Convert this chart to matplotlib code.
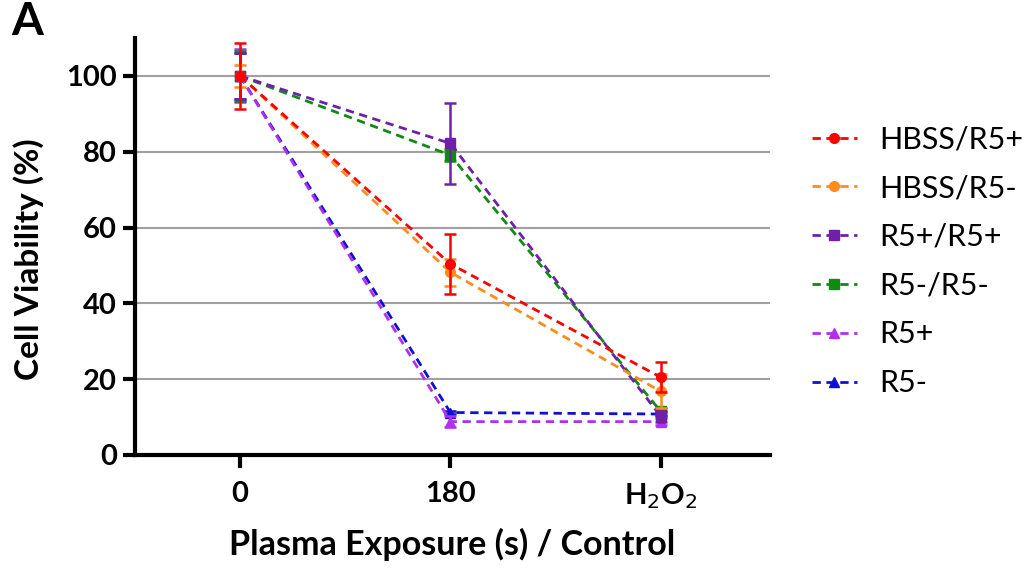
import matplotlib
matplotlib.use("Agg")
import matplotlib.pyplot as plt
import numpy as np

plt.rcParams['font.family'] = ['Lato', 'DejaVu Sans']

categories = ['0', '180', 'H$_2$O$_2$']
series_names = ['HBSS/R5+', 'HBSS/R5-', 'R5+/R5+', 'R5-/R5-', 'R5+', 'R5-']
hbss_r5p = [100, 50.4, 20.5]
hbss_r5p_err = [8.7, 8.0, 4.0]
hbss_r5m = [100, 48.2, 16.8]
hbss_r5m_err = [3.0, 3.6, 4.5]
r5p_r5p = [100, 82.2, 10.2]
r5p_r5p_err = [6.0, 10.7, 1.5]
r5m_r5m = [100, 79.1, 11.5]
r5m_r5m_err = [6.6, 1.5, 1.0]
r5p = [100, 8.8, 8.8]
r5p_err = [7.0, 1.5, 1.0]
r5m = [100, 11.2, 10.8]
r5m_err = [6.0, 0.5, 0.5]

values = [hbss_r5p, hbss_r5m, r5p_r5p, r5m_r5m, r5p, r5m]
errors = [hbss_r5p_err, hbss_r5m_err, r5p_r5p_err, r5m_r5m_err, r5p_err, r5m_err]
colors = ['#FF0000', '#FF8C1A', '#7020A8', '#118A11', '#B030F0', '#1010D0']
markers = ['o', 'o', 's', 's', '^', '^']
zorders = [10, 9, 8, 7, 6, 5]

fig = plt.figure(figsize=(10.35, 5.68), dpi=100)
ax = fig.add_axes([0.1304, 0.199, 0.744 - 0.1304, 0.933 - 0.199])

x = np.arange(len(categories))
handles = []
for vals, errs, c, m, z, name in zip(values, errors, colors, markers, zorders, series_names):
    ax.errorbar(x, vals, yerr=errs, fmt='none', ecolor=c, elinewidth=1.8,
                capsize=4, capthick=1.8, zorder=z)
    h, = ax.plot(x, vals, linestyle=(0, (3, 2)), color=c, linewidth=2,
                 marker=m, markersize=7, zorder=z, label=name)
    handles.append(h)

ax.set_xlim(-0.5, 2.52)
ax.set_ylim(0, 110)
ax.set_yticks([0, 20, 40, 60, 80, 100])
ax.set_xticks(x)
ax.set_xticklabels(categories)
for yv in [20, 40, 60, 80, 100]:
    ax.axhline(yv, color='#A0A0A0', linewidth=1.5, zorder=1)

for s in ['top', 'right']:
    ax.spines[s].set_visible(False)
for s in ['left', 'bottom']:
    ax.spines[s].set_linewidth(3)
ax.tick_params(axis='both', direction='out', width=3, length=9, labelsize=21)
ax.tick_params(axis='y', pad=4)
ax.tick_params(axis='x', pad=10)
for lab in ax.get_xticklabels() + ax.get_yticklabels():
    lab.set_fontweight('bold')

ax.set_xlabel('Plasma Exposure (s) / Control', fontsize=24.5, fontweight='bold', labelpad=12)
ax.set_ylabel('Cell Viability (%)', fontsize=24, fontweight='bold')
ax.yaxis.set_label_coords(-0.143, 0.47)

fig.text(0.011, 0.925, 'A', fontsize=33, fontweight='bold', ha='left', va='bottom')

fig.legend(handles=handles, labels=series_names, loc='center left',
           bbox_to_anchor=(0.770, 0.54), frameon=False, fontsize=22,
           handlelength=1.45, handletextpad=0.75, labelspacing=0.68, borderpad=0)

fig.savefig('out.png', dpi=100)
